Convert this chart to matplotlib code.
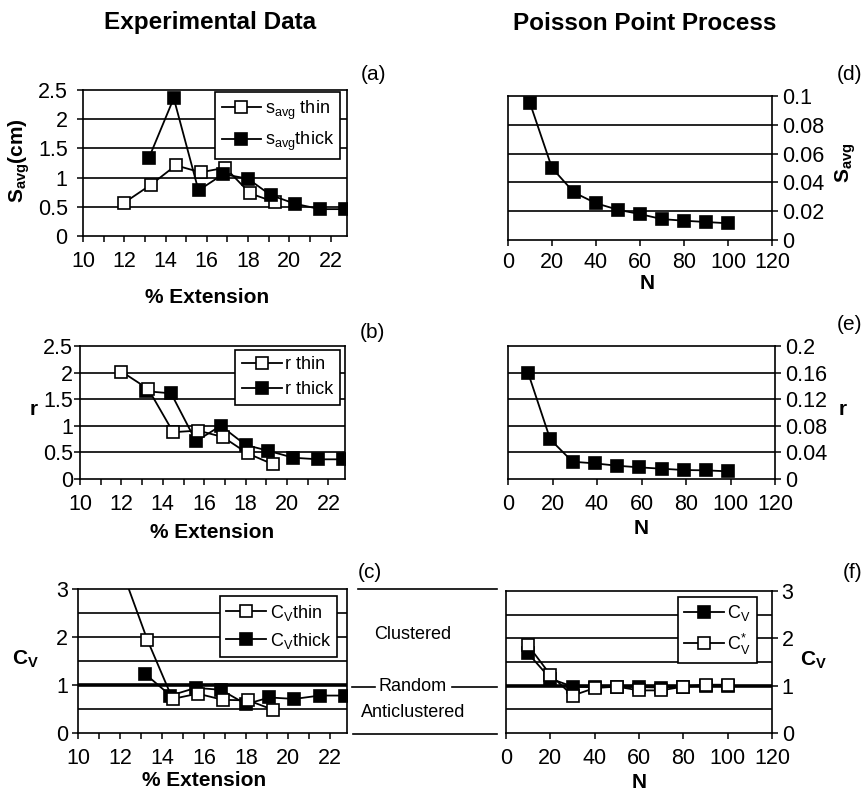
import numpy as np
import matplotlib
matplotlib.use('Agg')
import matplotlib.pyplot as plt
from matplotlib.lines import Line2D
from matplotlib.transforms import blended_transform_factory

plt.rcParams['font.family'] = ['Liberation Sans', 'DejaVu Sans']
plt.rcParams['mathtext.fontset'] = 'custom'
plt.rcParams['mathtext.rm'] = 'Liberation Sans'
plt.rcParams['mathtext.it'] = 'Liberation Sans:italic'
plt.rcParams['mathtext.bf'] = 'Liberation Sans:bold'

# experimental data: % extension
ext_thin = [12.0, 13.3, 14.5, 15.7, 16.9, 18.1, 19.3]
ext_thick = [13.2, 14.4, 15.6, 16.8, 18.0, 19.1, 20.3, 21.5, 22.7]

savg_thin = [0.57, 0.88, 1.21, 1.09, 1.17, 0.73, 0.58]
savg_thick = [1.34, 2.36, 0.78, 1.06, 0.98, 0.70, 0.55, 0.46, 0.46]

r_thin = [2.02, 1.69, 0.88, 0.91, 0.79, 0.48, 0.28]
r_thick = [1.65, 1.61, 0.71, 1.00, 0.64, 0.53, 0.40, 0.37, 0.37]

cv_thin = [3.5, 1.94, 0.71, 0.82, 0.69, 0.68, 0.48]
cv_thick = [1.23, 0.78, 0.94, 0.90, 0.60, 0.74, 0.71, 0.78, 0.78]

# Poisson point process: N
n_d = [10, 20, 30, 40, 50, 60, 70, 80, 90, 100]
savg_pp = [0.095, 0.050, 0.033, 0.0255, 0.021, 0.018, 0.0145, 0.0134, 0.0125, 0.0116]

n_e = [9, 19, 29, 39, 49, 59, 69, 79, 89, 99]
r_pp = [0.160, 0.0595, 0.026, 0.0235, 0.020, 0.0175, 0.0155, 0.0135, 0.013, 0.0115]

n_f = [10, 20, 30, 40, 50, 60, 70, 80, 90, 100]
cv_pp = [1.68, 1.15, 0.98, 0.97, 0.98, 0.97, 0.96, 0.98, 1.00, 1.00]
cvstar_pp = [1.85, 1.23, 0.79, 0.95, 0.98, 0.90, 0.90, 0.98, 1.02, 1.02]

W, H = 868, 792
fig = plt.figure(figsize=(W / 100, H / 100), dpi=100)


def make_axes(l, r, t, b):
    return fig.add_axes([l / W, 1 - b / H, (r - l) / W, (b - t) / H])


def style(ax, right=False, ypad=7, xpad=7):
    for s in ax.spines.values():
        s.set_linewidth(1.2)
        s.set_color('black')
    ax.tick_params(axis='both', direction='out', length=4, width=1.1,
                   labelsize=15.5, colors='black')
    ax.tick_params(axis='x', pad=xpad)
    ax.tick_params(axis='x', which='minor', direction='out', length=4, width=1.1)
    if right:
        ax.yaxis.tick_right()
    ax.tick_params(axis='y', pad=ypad)


def grid(ax, vals, thick=None):
    for v in vals:
        lw = 2.6 if v == thick else 1.2
        ax.axhline(v, color='black', lw=lw, zorder=1)


def series(ax, x, y, filled, label):
    ax.plot(x, y, color='black', lw=1.3, marker='s', ms=8.5,
            mfc='black' if filled else 'white', mec='black', mew=1.2,
            label=label, zorder=3, clip_on=True)


def leg(ax, anchor, order=None):
    h, l = ax.get_legend_handles_labels()
    if order:
        h = [h[i] for i in order]
        l = [l[i] for i in order]
    lg = ax.legend(h, l, loc='upper right', bbox_to_anchor=anchor, fontsize=13,
                   frameon=True, fancybox=False, framealpha=1, edgecolor='black',
                   handlelength=2.2, handletextpad=0.2, borderpad=0.35,
                   labelspacing=0.45, borderaxespad=0)
    lg.get_frame().set_linewidth(1.2)


def left_x(ax):
    ax.set_xlim(10, 22.8)
    ax.set_xticks(np.arange(10, 23, 2))
    ax.set_xticks(np.arange(11, 23, 2), minor=True)


def right_x(ax):
    ax.set_xlim(0, 120)
    ax.set_xticks(np.arange(0, 121, 20))


bold = dict(fontsize=15, fontweight='bold', ha='center', va='center')

# (a)
ax = make_axes(83, 347, 90, 236)
style(ax, ypad=7)
left_x(ax)
ax.set_ylim(0, 2.5)
ax.set_yticks(np.arange(0, 2.51, 0.5))
ax.set_yticklabels(['0', '0.5', '1', '1.5', '2', '2.5'])
grid(ax, [0.5, 1, 1.5, 2])
series(ax, ext_thin, savg_thin, False, r's$_{\mathrm{avg}}$ thin')
series(ax, ext_thick, savg_thick, True, r's$_{\mathrm{avg}}$thick')
leg(ax, (0.975, 0.985))
ax.text(-0.24, 0.52, r'S$_{\mathbf{avg}}$(cm)', rotation=90, transform=ax.transAxes, **bold)
ax.text(0.47, -0.42, '% Extension', transform=ax.transAxes, **bold)

# (b)
ax = make_axes(80, 345, 346, 479)
style(ax, ypad=1)
left_x(ax)
ax.set_ylim(0, 2.5)
ax.set_yticks(np.arange(0, 2.51, 0.5))
ax.set_yticklabels(['0', '0.5', '1', '1.5', '2', '2.5'])
grid(ax, [0.5, 1, 1.5, 2])
series(ax, ext_thick, r_thick, True, 'r thick')
series(ax, ext_thin, r_thin, False, 'r thin')
leg(ax, (0.98, 0.97), order=[1, 0])
ax.text(-0.175, 0.52, 'r', transform=ax.transAxes, **bold)
ax.text(0.5, -0.40, '% Extension', transform=ax.transAxes, **bold)

# (c)
axc = make_axes(78, 347, 589, 733)
ax = axc
style(ax, ypad=3)
left_x(ax)
ax.set_ylim(0, 3)
ax.set_yticks([0, 1, 2, 3])
grid(ax, [0.5, 1, 1.5, 2, 2.5], thick=1)
series(ax, ext_thick, cv_thick, True, r'C$_{\mathrm{V}}$thick')
series(ax, ext_thin, cv_thin, False, r'C$_{\mathrm{V}}$thin')
leg(ax, (0.963, 0.95), order=[1, 0])
ax.text(-0.197, 0.51, r'C$_{\mathbf{V}}$', transform=ax.transAxes, **bold)
ax.text(0.47, -0.33, '% Extension', transform=ax.transAxes, **bold)

# (d)
ax = make_axes(508, 772, 96, 240)
style(ax, right=True, ypad=3, xpad=5)
right_x(ax)
ax.set_ylim(0, 0.1)
ax.set_yticks(np.arange(0, 0.101, 0.02))
ax.set_yticklabels(['0', '0.02', '0.04', '0.06', '0.08', '0.1'])
grid(ax, [0.02, 0.04, 0.06, 0.08])
series(ax, n_d, savg_pp, True, None)
ax.text(1.28, 0.535, r'S$_{\mathbf{avg}}$', rotation=90, transform=ax.transAxes, **bold)
ax.text(0.527, -0.30, 'N', transform=ax.transAxes, **bold)

# (e)
ax = make_axes(508, 775, 346, 479)
style(ax, right=True, ypad=3)
right_x(ax)
ax.set_ylim(0, 0.2)
ax.set_yticks(np.arange(0, 0.201, 0.04))
ax.set_yticklabels(['0', '0.04', '0.08', '0.12', '0.16', '0.2'])
grid(ax, [0.04, 0.08, 0.12, 0.16])
series(ax, n_e, r_pp, True, None)
ax.text(1.255, 0.52, 'r', transform=ax.transAxes, **bold)
ax.text(0.50, -0.37, 'N', transform=ax.transAxes, **bold)

# (f)
ax = make_axes(506, 772, 591, 733)
style(ax, right=True, ypad=3)
right_x(ax)
ax.set_ylim(0, 3)
ax.set_yticks([0, 1, 2, 3])
grid(ax, [0.5, 1, 1.5, 2, 2.5], thick=1)
series(ax, n_f, cv_pp, True, r'C$_{\mathrm{V}}$')
series(ax, n_f, cvstar_pp, False, r'C$_{\mathrm{V}}^{*}$')
leg(ax, (0.944, 0.958))
ax.text(1.154, 0.514, r'C$_{\mathbf{V}}$', transform=ax.transAxes, **bold)
ax.text(0.50, -0.35, 'N', transform=ax.transAxes, **bold)

# band labels between (c) and (f)
tr = blended_transform_factory(fig.transFigure, axc.transData)
for x0, x1, yv in [(358, 497, 3.0), (353, 497, -0.02), (352, 375, 0.96), (452, 497, 0.96)]:
    fig.add_artist(Line2D([x0 / W, x1 / W], [yv, yv], transform=tr, color='black', lw=1.2))
fig.text(413 / W, 2.06, 'Clustered', transform=tr, fontsize=13, ha='center', va='center')
fig.text(413 / W, 0.96, 'Random', transform=tr, fontsize=13, ha='center', va='center')
fig.text(413 / W, 0.42, 'Anticlustered', transform=tr, fontsize=13, ha='center', va='center')

# titles and panel letters
fig.text(210 / W, 1 - 23 / H, 'Experimental Data', fontsize=17.5, fontweight='bold',
         ha='center', va='center')
fig.text(645 / W, 1 - 23 / H, 'Poisson Point Process', fontsize=17.5, fontweight='bold',
         ha='center', va='center')
for lab, x, y in [('(a)', 373, 75), ('(b)', 372, 333), ('(c)', 370, 573),
                  ('(d)', 850, 75), ('(e)', 850, 325), ('(f)', 853, 573)]:
    fig.text(x / W, 1 - y / H, lab, fontsize=15, ha='center', va='center')

fig.savefig('out.png', dpi=100)
